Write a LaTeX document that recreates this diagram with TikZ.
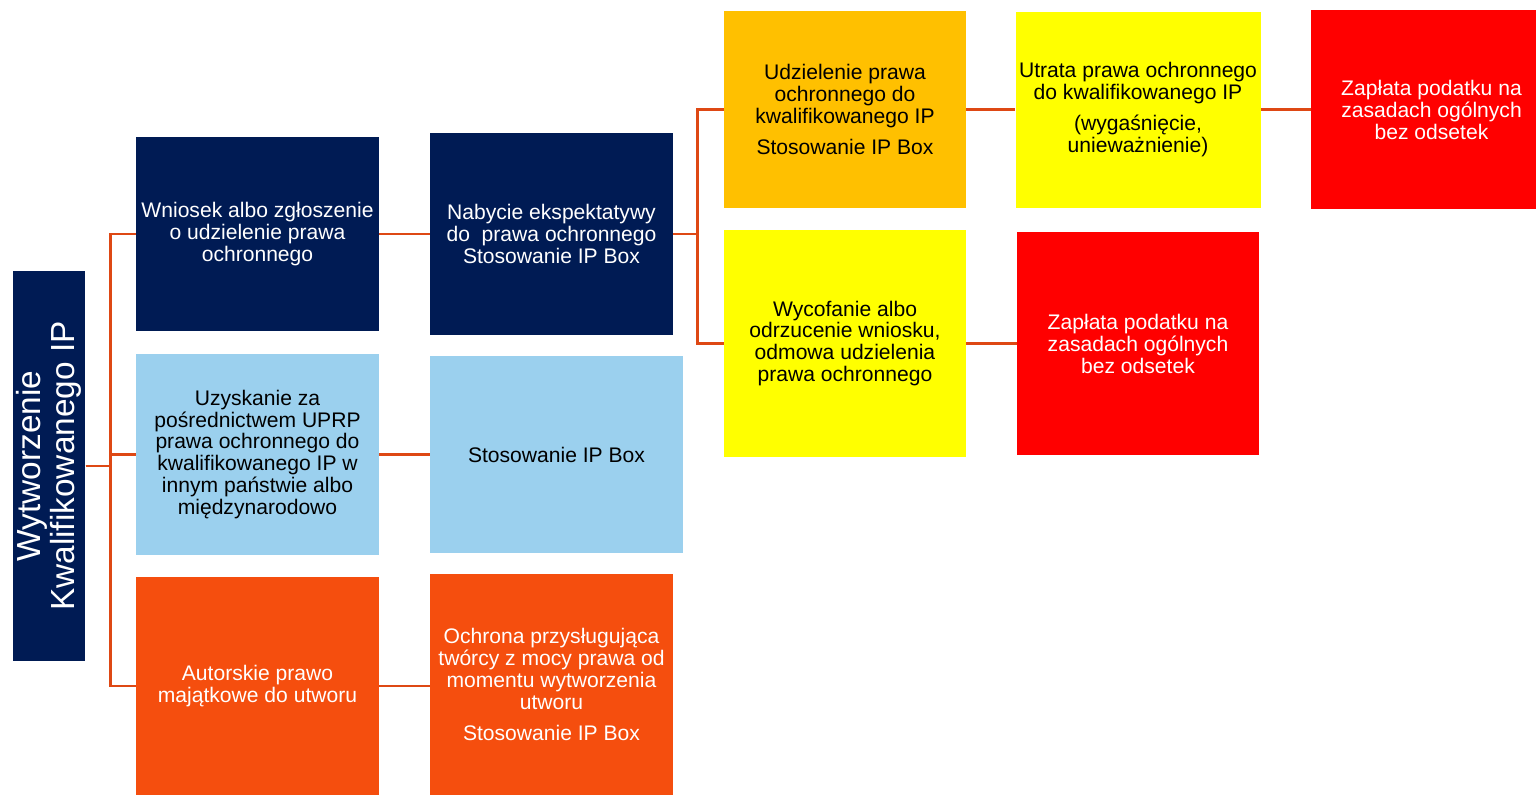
\documentclass[tikz,border=0pt]{standalone}
\usepackage{fontspec}
\setmainfont{Liberation Sans}
\usepackage{xcolor}
\usepackage{tikz}

\definecolor{navy}{RGB}{0,27,84}
\definecolor{skyblue}{RGB}{155,208,238}
\definecolor{flame}{RGB}{245,78,14}
\definecolor{amber}{RGB}{255,192,0}
\definecolor{lemon}{RGB}{255,255,0}
\definecolor{signalred}{RGB}{255,0,0}
\definecolor{linkred}{RGB}{222,72,20}

\begin{document}
\begin{tikzpicture}[
  box/.style={rectangle, align=center, inner sep=2pt, font=\fontsize{12}{12.5}\selectfont},
  navybox/.style={box, fill=navy, text=white},
  bluebox/.style={box, fill=skyblue, text=black},
  flamebox/.style={box, fill=flame, text=white},
  amberbox/.style={box, fill=amber, text=black},
  yellowbox/.style={box, fill=lemon, text=black},
  redbox/.style={box, fill=signalred, text=white},
  link/.style={draw=linkred, line width=1.4pt}
]

\useasboundingbox (0,0) rectangle (30.72,-15.9);

% Root
\node[navybox, rotate=90, minimum width=7.8cm, minimum height=1.44cm,
      font=\fontsize{19}{19.5}\selectfont] (root) at (0.98,-9.32)
      {Wytworzenie\\Kwalifikowanego IP};

% Level 1
\node[navybox, minimum width=4.86cm, minimum height=3.88cm] (wniosek) at (5.15,-4.68)
  {Wniosek albo zgłoszenie\\o udzielenie prawa\\ochronnego};
\node[bluebox, minimum width=4.86cm, minimum height=4.02cm] (uzyskanie) at (5.15,-9.09)
  {Uzyskanie za\\pośrednictwem UPRP\\prawa ochronnego do\\kwalifikowanego IP w\\innym państwie albo\\międzynarodowo};
\node[flamebox, minimum width=4.86cm, minimum height=4.36cm] (autorskie) at (5.15,-13.72)
  {Autorskie prawo\\majątkowe do utworu};

% Level 2
\node[navybox, minimum width=4.86cm, minimum height=4.04cm] (nabycie) at (11.03,-4.68)
  {Nabycie ekspektatywy\\do\ \ prawa ochronnego\\Stosowanie IP Box};
\node[bluebox, minimum width=5.06cm, minimum height=3.94cm] (stosowanie) at (11.13,-9.09)
  {Stosowanie IP Box};
\node[flamebox, minimum width=4.86cm, minimum height=4.42cm] (ochrona) at (11.03,-13.69)
  {Ochrona przysługująca\\twórcy z mocy prawa od\\momentu wytworzenia\\utworu\\[0.18cm]Stosowanie IP Box};

% Level 3
\node[amberbox, minimum width=4.84cm, minimum height=3.94cm] (udzielenie) at (16.9,-2.19)
  {Udzielenie prawa\\ochronnego do\\kwalifikowanego IP\\[0.18cm]Stosowanie IP Box};
\node[yellowbox, minimum width=4.84cm, minimum height=4.54cm] (wycofanie) at (16.9,-6.87)
  {Wycofanie albo\\odrzucenie wniosku,\\odmowa udzielenia\\prawa ochronnego};

% Level 4
\node[yellowbox, minimum width=4.84cm, minimum height=3.92cm] (utrata) at (22.76,-2.19)
  {Utrata prawa ochronnego\\do kwalifikowanego IP\\[0.18cm](wygaśnięcie,\\unieważnienie)};
\node[redbox, minimum width=4.84cm, minimum height=4.46cm] (zaplata) at (22.76,-6.87)
  {Zapłata podatku na\\zasadach ogólnych\\bez odsetek};

% Level 5
\node[redbox, minimum width=4.5cm, minimum height=3.98cm] (zaplatb) at (28.47,-2.19)
  {\hspace*{0.32cm}Zapłata podatku na\\\hspace*{0.32cm}zasadach ogólnych\\\hspace*{0.32cm}bez odsetek};

% Connectors
\draw[link] (root.south) -- ++(0.5,0) |- (wniosek.west);
\draw[link] (root.south) -- ++(0.5,0) |- (uzyskanie.west);
\draw[link] (root.south) -- ++(0.5,0) |- (autorskie.west);
\draw[link] (wniosek.east) -- (nabycie.west |- wniosek.east);
\draw[link] (uzyskanie.east) -- (stosowanie.west |- uzyskanie.east);
\draw[link] (autorskie.east) -- (ochrona.west |- autorskie.east);
\draw[link] (nabycie.east) -- ++(0.48,0) |- (udzielenie.west);
\draw[link] (nabycie.east) -- ++(0.48,0) |- (wycofanie.west);
\draw[link] (udzielenie.east) -- (utrata.west |- udzielenie.east);
\draw[link] (wycofanie.east) -- (zaplata.west |- wycofanie.east);
\draw[link] (utrata.east) -- (zaplatb.west |- utrata.east);

\end{tikzpicture}
\end{document}
